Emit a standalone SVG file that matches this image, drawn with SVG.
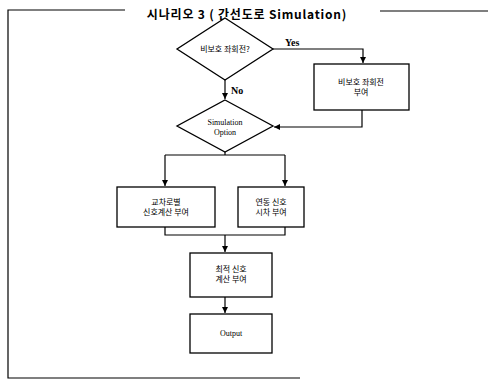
<svg xmlns="http://www.w3.org/2000/svg" width="488" height="383" viewBox="0 0 488 383">
<defs>
<marker id="ah" viewBox="0 0 10 10" refX="10" refY="5" markerWidth="5" markerHeight="5" orient="auto"><path d="M0,0 L10,5 L0,10 Z" fill="#000"/></marker>
</defs>
<style>
.shape{fill:#fff;stroke:#000;stroke-width:1.3}
.ln{fill:none;stroke:#000;stroke-width:1.2}
.kt{font-family:"Noto Sans CJK KR","Noto Sans",sans-serif;font-size:8px;fill:#000;text-anchor:middle}
.et{font-family:"Liberation Serif",serif;font-size:8px;fill:#000;text-anchor:middle}
.lb{font-family:"Liberation Serif",serif;font-size:10px;font-weight:bold;fill:#000}
</style>
<rect width="488" height="383" fill="#fff"/>
<g id="frame">
<path class="ln" d="M125,10 H8 V378 H300" />
<path class="ln" d="M380,11 H488" />
<text x="247" y="19" font-family="Noto Sans CJK KR,sans-serif" font-size="12" font-weight="bold" letter-spacing="0.8" text-anchor="middle">시나리오 3 ( 간선도로 Simulation)</text>
</g>
<g id="connectors">
<path class="ln" d="M273,49 H363 V63" marker-end="url(#ah)"/>
<path class="ln" d="M225,80 V99" marker-end="url(#ah)"/>
<path class="ln" d="M362,110 V127 H274" marker-end="url(#ah)"/>
<path class="ln" d="M225,152 V155"/>
<path class="ln" d="M165,155 H285"/>
<path class="ln" d="M165,155 V186" marker-end="url(#ah)"/>
<path class="ln" d="M285,155 V186" marker-end="url(#ah)"/>
<path class="ln" d="M165,227 V235 H285 V227"/>
<path class="ln" d="M225,235 V252" marker-end="url(#ah)"/>
<path class="ln" d="M225,297 V313" marker-end="url(#ah)"/>
<text class="lb" x="285" y="46">Yes</text>
<text class="lb" x="231" y="94">No</text>
</g>
<g id="decision1">
<polygon class="shape" points="225,18 273,49 225,80 177,49"/>
<text class="kt" x="225" y="52">비보호 좌회전?</text>
</g>
<g id="assign1">
<rect class="shape" x="314" y="64" width="95" height="46"/>
<text class="kt" x="361" y="85">비보호 좌회전</text>
<text class="kt" x="361" y="95">부여</text>
</g>
<g id="decision2">
<polygon class="shape" points="225,100 273,126 225,152 177,126"/>
<text class="et" x="225" y="125">Simulation</text>
<text class="et" x="225" y="135">Option</text>
</g>
<g id="boxLeft">
<rect class="shape" x="117" y="187" width="98" height="40"/>
<text class="kt" x="166" y="205">교차로별</text>
<text class="kt" x="166" y="215">신호계산 부여</text>
</g>
<g id="boxRight">
<rect class="shape" x="238" y="187" width="66" height="40"/>
<text class="kt" x="271" y="205">연동 신호</text>
<text class="kt" x="271" y="215">시차 부여</text>
</g>
<g id="boxMid">
<rect class="shape" x="190" y="253" width="82" height="44"/>
<text class="kt" x="231" y="272">최적 신호</text>
<text class="kt" x="231" y="282">계산 부여</text>
</g>
<g id="output">
<rect class="shape" x="190" y="314" width="82" height="39"/>
<text class="et" x="231" y="336">Output</text>
</g>
</svg>
